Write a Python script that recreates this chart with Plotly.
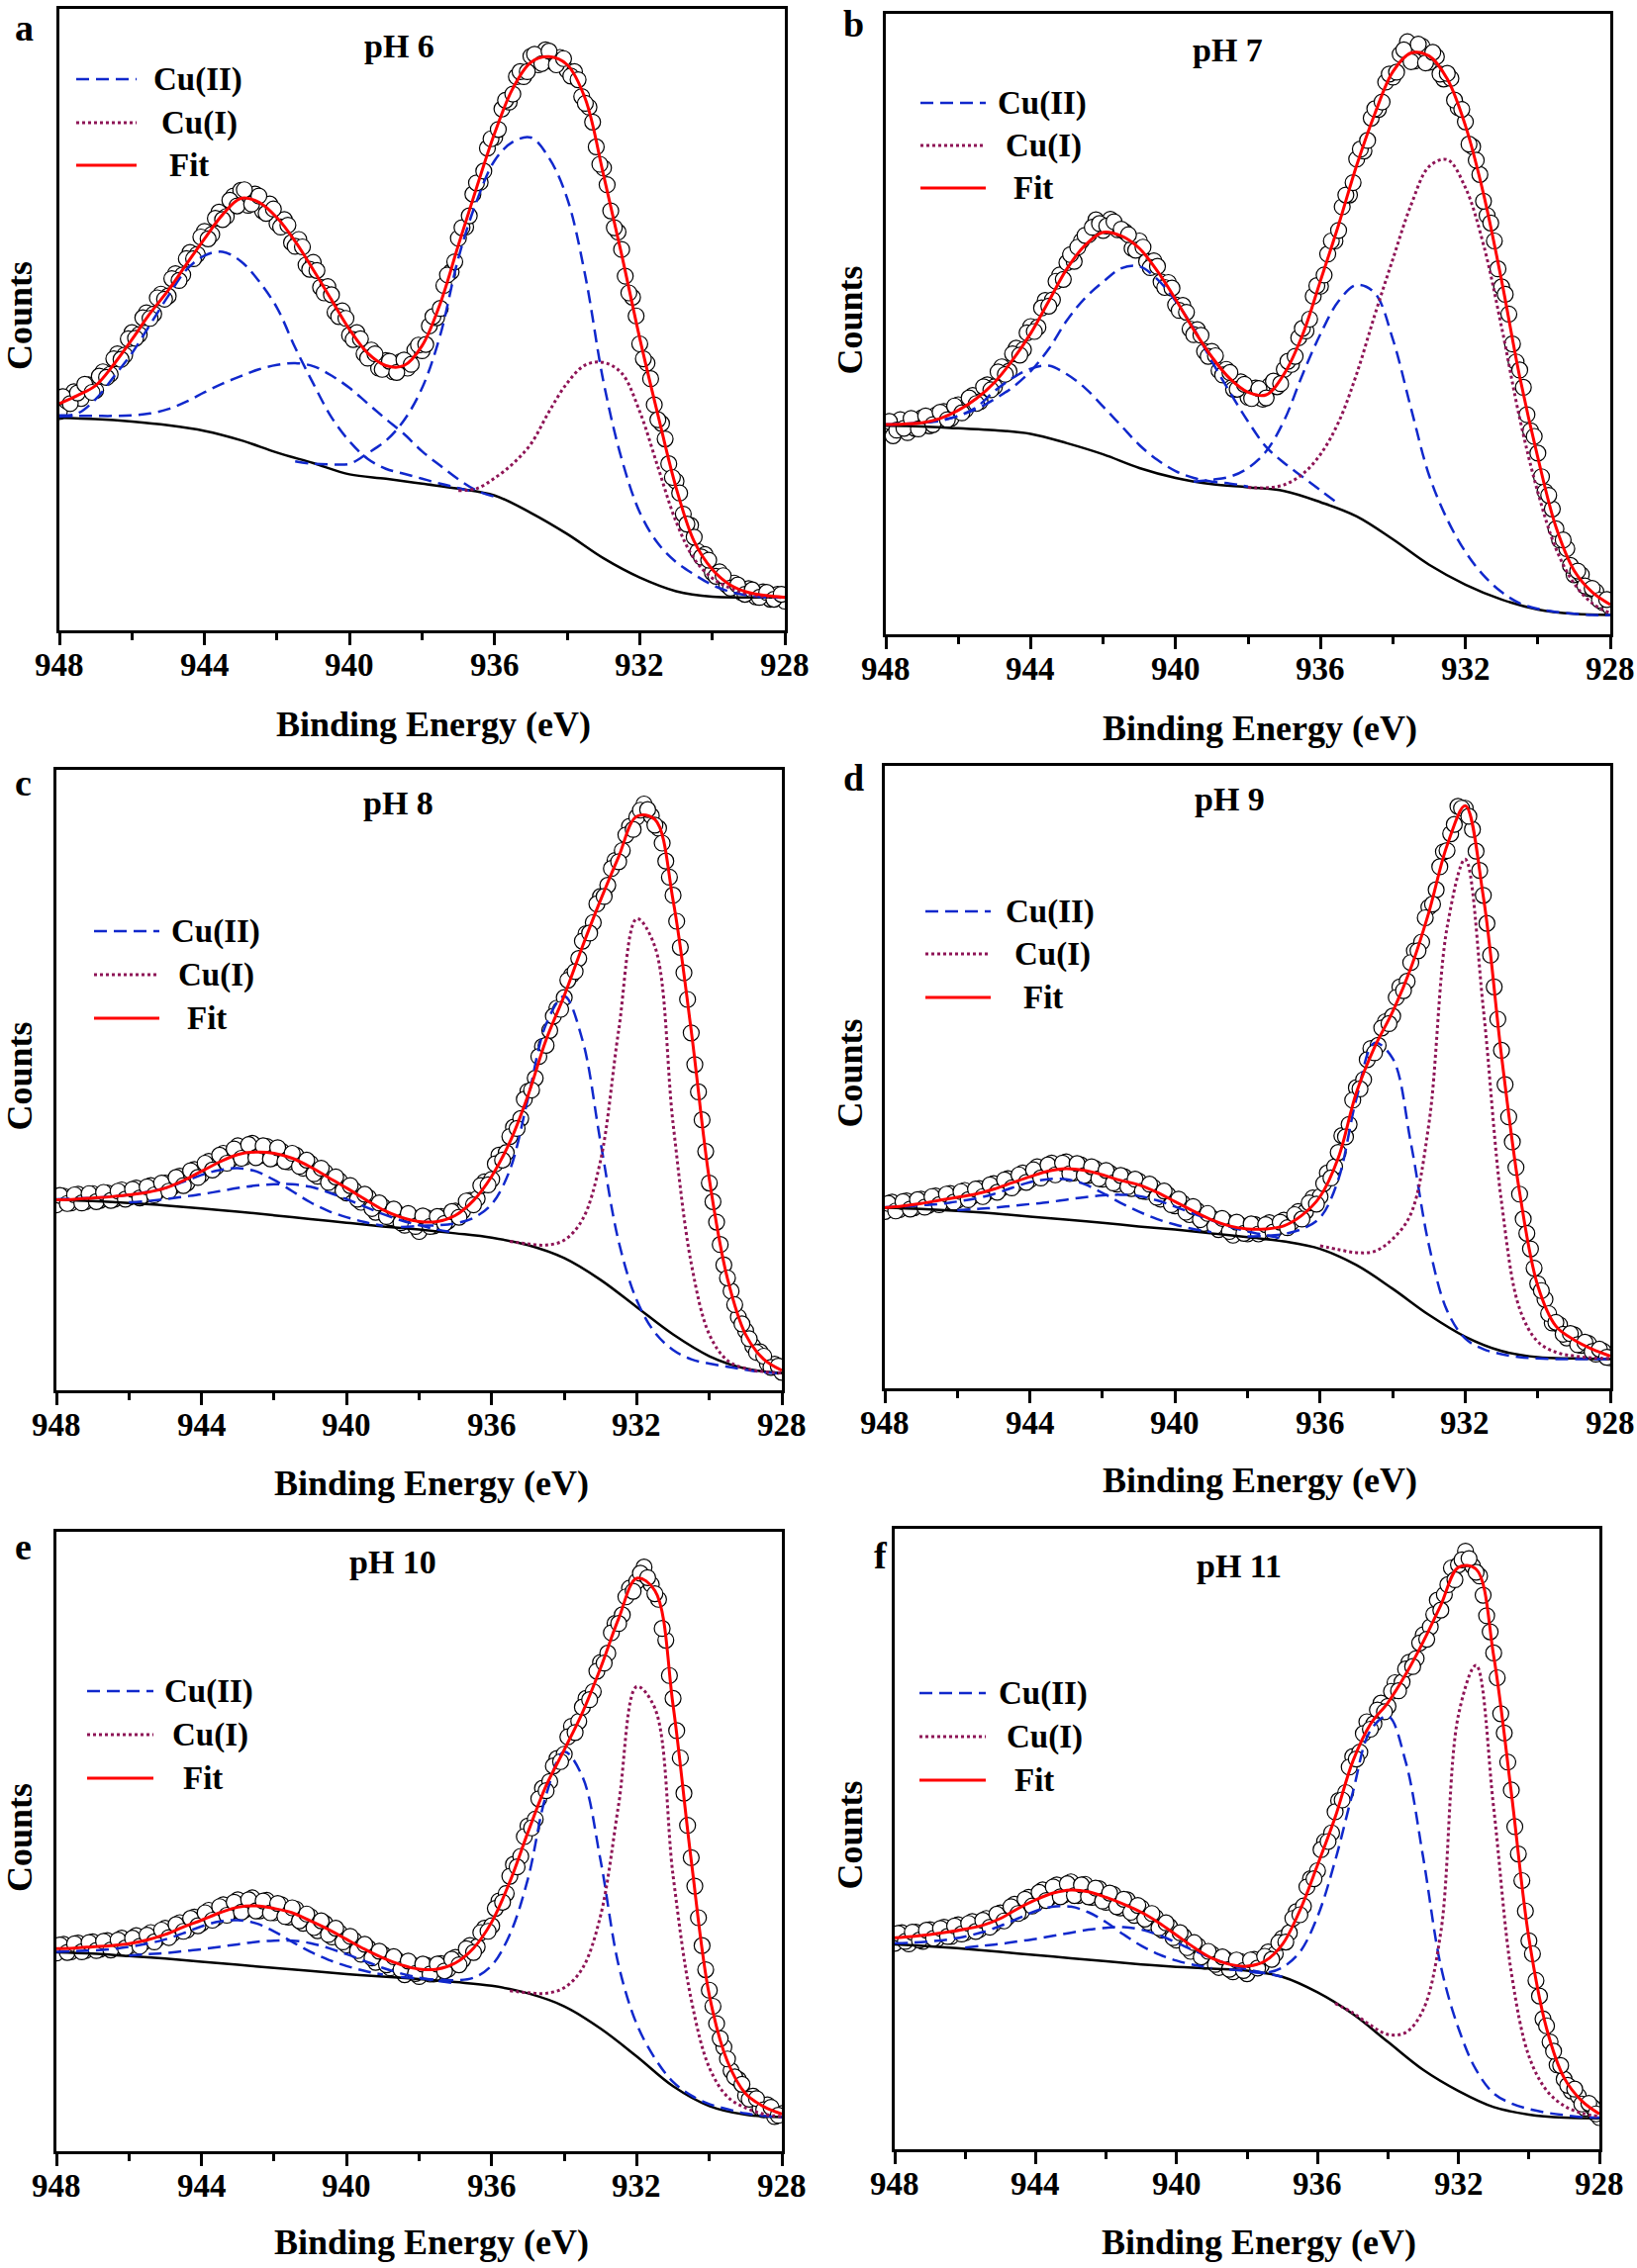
import plotly.graph_objects as go

W, H = 1654, 2292

# ---------------- energy grids (eV) ----------------
ENERGY_DATA = [948.0, 947.8, 947.6, 947.4, 947.2, 947.0, 946.8, 946.6, 946.4, 946.2,
               946.0, 945.8, 945.6, 945.4, 945.2, 945.0, 944.8, 944.6, 944.4, 944.2,
               944.0, 943.8, 943.6, 943.4, 943.2, 943.0, 942.8, 942.6, 942.4, 942.2,
               942.0, 941.8, 941.6, 941.4, 941.2, 941.0, 940.8, 940.6, 940.4, 940.2,
               940.0, 939.8, 939.6, 939.4, 939.2, 939.0, 938.8, 938.6, 938.4, 938.2,
               938.0, 937.8, 937.6, 937.4, 937.2, 937.0, 936.8, 936.6, 936.4, 936.2,
               936.0, 935.8, 935.6, 935.4, 935.2, 935.0, 934.8, 934.6, 934.4, 934.2,
               934.0, 933.8, 933.6, 933.4, 933.2, 933.0, 932.8, 932.6, 932.4, 932.2,
               932.0, 931.8, 931.6, 931.4, 931.2, 931.0, 930.8, 930.6, 930.4, 930.2,
               930.0, 929.8, 929.6, 929.4, 929.2, 929.0, 928.8, 928.6, 928.4, 928.2,
               928.0]
ENERGY_MID = [947.9, 947.7, 947.5, 947.3, 947.1, 946.9, 946.7, 946.5, 946.3, 946.1,
              945.9, 945.7, 945.5, 945.3, 945.1, 944.9, 944.7, 944.5, 944.3, 944.1,
              943.9, 943.7, 943.5, 943.3, 943.1, 942.9, 942.7, 942.5, 942.3, 942.1,
              941.9, 941.7, 941.5, 941.3, 941.1, 940.9, 940.7, 940.5, 940.3, 940.1,
              939.9, 939.7, 939.5, 939.3, 939.1, 938.9, 938.7, 938.5, 938.3, 938.1,
              937.9, 937.7, 937.5, 937.3, 937.1, 936.9, 936.7, 936.5, 936.3, 936.1,
              935.9, 935.7, 935.5, 935.3, 935.1, 934.9, 934.7, 934.5, 934.3, 934.1,
              933.9, 933.7, 933.5, 933.3, 933.1, 932.9, 932.7, 932.5, 932.3, 932.1,
              931.9, 931.7, 931.5, 931.3, 931.1, 930.9, 930.7, 930.5, 930.3, 930.1,
              929.9, 929.7, 929.5, 929.3, 929.1, 928.9, 928.7, 928.5, 928.3, 928.1]
ENERGY_FIT = [948.0, 947.5, 947.0, 946.5, 946.0, 945.5, 945.0, 944.5, 944.0, 943.5,
              943.0, 942.5, 942.0, 941.5, 941.0, 940.5, 940.0, 939.5, 939.0, 938.5,
              938.0, 937.5, 937.0, 936.5, 936.0, 935.5, 935.0, 934.5, 934.0, 933.5,
              933.0, 932.5, 932.0, 931.5, 931.0, 930.5, 930.0, 929.5, 929.0, 928.5,
              928.0]
ENERGY_BG = [948, 947, 946, 945, 944, 943, 942, 941, 940, 939, 938,
             937, 936, 935, 934, 933, 932, 931, 930, 929, 928]

TICK_VALUES = [948, 944, 940, 936, 932, 928]
TICK_LABELS = ["948", "944", "940", "936", "932", "928"]
MINOR_TICKS = [946, 942, 938, 934, 930]

PANEL_LETTERS = ["a", "b", "c", "d", "e", "f"]
PANEL_TITLES = ["pH 6", "pH 7", "pH 8", "pH 9", "pH 10", "pH 11"]
LEGEND_NAMES = ["Cu(II)", "Cu(I)", "Fit"]

# ---------------- panel a (pH 6) ----------------
DATA_A = [35.2, 36.9, 38.4, 37.3, 39.5, 38.6, 41.6, 41.2, 44.5, 44.3,
          47.9, 47.6, 51.1, 50.9, 54.1, 53.8, 57.4, 57.2, 60.8, 60.5,
          64.2, 63.7, 67.3, 66.6, 69.9, 70.8, 68.4, 70.2, 67.5, 68.6,
          65.5, 66.1, 62.4, 62.9, 58.8, 59.2, 55.2, 55.3, 51.2, 51.4,
          47.5, 47.9, 44.5, 45.1, 42.2, 43.4, 41.6, 43.2, 42.2, 45.1,
          45.0, 49.0, 50.3, 55.5, 57.7, 63.1, 64.9, 70.2, 72.1, 77.6,
          79.3, 83.9, 85.0, 89.1, 89.1, 92.4, 91.0, 93.4, 91.5, 92.2,
          90.1, 89.9, 85.9, 84.2, 77.8, 74.4, 67.5, 64.1, 57.0, 53.6,
          46.1, 43.0, 36.3, 33.3, 26.8, 24.0, 18.7, 16.9, 12.7, 12.2,
          9.3, 9.4, 7.3, 7.6, 6.1, 6.7, 5.4, 6.2, 5.0, 5.8,
          4.7]
DATA_A_MID = [37.6, 36.5, 38.2, 39.6, 38.3, 40.9, 40.7, 43.7, 43.6, 46.9,
              47.0, 50.3, 50.2, 53.5, 53.3, 56.6, 56.3, 59.8, 59.8, 63.3,
              63.0, 66.3, 66.1, 69.2, 68.3, 70.9, 68.6, 69.9, 67.1, 67.8,
              64.9, 65.2, 61.8, 61.7, 58.1, 57.9, 54.3, 54.0, 50.5, 50.2,
              46.8, 46.9, 43.8, 44.5, 42.0, 43.3, 41.5, 43.5, 42.8, 45.9,
              46.0, 50.5, 51.8, 57.2, 59.3, 64.8, 66.7, 72.0, 73.9, 79.1,
              80.6, 85.3, 86.3, 89.9, 89.9, 92.7, 91.2, 93.2, 91.0, 92.0,
              89.2, 88.6, 84.8, 81.8, 75.0, 71.7, 64.8, 61.3, 54.3, 50.6,
              43.7, 40.5, 33.9, 30.8, 24.6, 22.1, 17.1, 15.0, 11.8, 11.3,
              8.7, 8.8, 6.8, 7.3, 5.8, 6.5, 5.3, 6.1, 5.0, 5.8]
FIT_A = [36.5, 37.8, 39.4, 42.8, 46.8, 51.0, 54.7, 58.9, 63.0, 66.9,
         69.5, 68.9, 66.4, 62.6, 58.0, 53.2, 48.4, 44.6, 42.6, 42.6,
         45.8, 52.6, 62.0, 71.2, 80.0, 87.2, 91.4, 92.3, 91.0, 85.5,
         73.3, 60.5, 47.0, 34.7, 23.0, 14.3, 9.8, 7.3, 6.1, 5.6,
         5.3]
BG_A = [34.2, 34.0, 33.6, 33.0, 32.1, 30.6, 28.6, 26.9, 25.1, 24.4, 23.6,
        22.8, 21.7, 18.9, 15.5, 11.6, 8.5, 6.3, 5.4, 5.3, 5.3]
CU2_A_SAT1 = [34.6, 34.9, 37.2, 40.8, 44.6, 49.2, 53.8, 58.0, 60.3, 60.9,
              59.4, 56.2, 51.9, 45.5, 39.7, 34.3, 30.4, 27.6, 26.0, 25.2,
              24.4, 23.6, 22.9, 22.2]                      # from 948.0
CU2_A_SAT2 = [34.4, 34.5, 34.5, 34.5, 34.6, 34.9, 35.6, 36.8, 38.3, 39.7,
              40.9, 42.0, 42.7, 43.0, 42.5, 41.0, 39.0, 36.5, 34.0, 31.6,
              28.8, 26.5, 24.3, 22.5, 21.5]                # from 948.0
CU2_A_MAIN = [27.2, 26.8, 26.7, 26.8, 28.5, 30.5, 33.8, 39.0, 47.5, 59.9,
              69.0, 75.6, 78.6, 79.3, 76.0, 69.5, 57.0, 40.0, 27.6, 19.0,
              14.0, 11.0, 9.0, 7.3, 6.2, 5.6, 5.3, 5.3]     # from 941.5
CU1_A = [22.5, 22.8, 24.5, 26.8, 30.0, 35.2, 39.8, 42.7, 43.1, 41.4,
         35.2, 26.3, 17.5, 11.5, 8.4, 6.8, 5.8, 5.4, 5.3]   # from 937.0

# ---------------- panel b (pH 7) ----------------
DATA_B = [33.5, 32.0, 34.6, 32.5, 33.2, 34.9, 33.6, 35.4, 35.9, 34.8,
          37.0, 36.2, 38.5, 37.5, 40.2, 39.9, 43.1, 42.4, 46.1, 45.9,
          49.6, 49.5, 53.8, 53.9, 57.9, 59.9, 60.1, 63.4, 64.4, 66.8,
          65.1, 66.9, 65.2, 64.9, 62.2, 63.4, 60.1, 60.2, 56.8, 56.7,
          53.1, 53.0, 49.2, 49.1, 45.6, 45.6, 42.5, 42.7, 39.5, 40.7,
          38.2, 39.7, 37.9, 40.1, 39.9, 42.7, 43.5, 47.8, 48.9, 54.5,
          56.1, 61.3, 63.4, 68.9, 70.8, 76.6, 77.9, 83.2, 84.6, 89.0,
          89.8, 93.5, 95.5, 92.4, 94.8, 92.2, 93.1, 89.5, 89.6, 84.9,
          82.6, 78.6, 74.1, 67.5, 63.4, 56.0, 51.6, 43.9, 39.8, 32.8,
          29.2, 23.0, 20.2, 15.2, 13.8, 9.6, 9.6, 7.4, 6.9, 5.1,
          4.4]
DATA_B_MID = [34.3, 32.9, 33.2, 34.8, 33.1, 35.2, 33.8, 35.8, 34.6, 36.8,
              35.7, 38.1, 37.2, 39.9, 39.4, 42.3, 41.9, 45.2, 45.0, 48.6,
              48.8, 52.6, 52.9, 56.9, 57.2, 61.2, 62.4, 64.3, 65.6, 66.2,
              65.8, 66.5, 65.3, 64.4, 61.9, 62.4, 59.1, 59.3, 55.9, 55.8,
              52.2, 51.9, 48.3, 48.2, 44.8, 44.9, 41.8, 42.2, 39.5, 40.3,
              38.0, 39.6, 38.1, 40.8, 40.4, 44.0, 44.8, 49.3, 50.8, 56.2,
              57.9, 63.4, 65.1, 70.8, 72.8, 78.2, 79.6, 84.7, 85.8, 90.3,
              90.6, 94.2, 92.3, 95.1, 92.1, 93.8, 90.3, 90.4, 86.1, 84.6,
              79.0, 76.4, 69.8, 66.3, 58.9, 54.8, 46.8, 42.6, 35.4, 31.9,
              25.4, 22.4, 17.0, 15.2, 11.1, 10.2, 7.8, 7.4, 5.5, 5.6]
FIT_B = [33.8, 33.9, 34.1, 34.8, 36.1, 38.0, 40.6, 44.2, 48.5, 53.7,
         58.9, 62.7, 64.8, 64.2, 62.2, 58.5, 54.0, 49.1, 44.7, 41.2,
         39.0, 38.6, 42.0, 48.2, 57.0, 66.0, 75.6, 83.9, 90.7, 93.7,
         93.2, 89.5, 82.0, 71.0, 57.0, 41.5, 28.5, 17.3, 10.3, 6.8,
         4.8]
BG_B = [33.6, 33.5, 33.2, 32.9, 32.3, 30.8, 29.0, 26.8, 25.2, 24.2, 23.7,
        23.1, 21.3, 19.0, 15.3, 11.2, 8.0, 5.6, 4.0, 3.3, 3.1]
CU2_B_SAT1 = [33.8, 33.9, 34.1, 34.5, 35.2, 36.6, 39.2, 41.3, 42.8, 43.3,
              41.9, 39.7, 36.7, 33.6, 30.5, 28.1, 26.3, 25.2, 24.6, 24.3,
              23.8]                                        # from 948.0
CU2_B_SAT2 = [33.8, 33.9, 34.1, 34.4, 35.2, 36.3, 37.9, 39.8, 42.4, 46.0,
              50.6, 54.2, 56.8, 59.0, 59.3, 57.2, 53.7, 49.3, 44.0, 39.0,
              34.3, 30.2, 27.6, 25.4, 23.2, 21.0]           # from 948.0
CU2_B_MAIN = [24.6, 24.9, 25.4, 26.8, 29.5, 34.5, 41.8, 48.4, 53.7, 56.3,
              55.0, 47.5, 36.4, 25.6, 18.5, 13.3, 9.5, 6.8, 5.0, 4.1,
              3.6, 3.3, 3.1, 3.1]                          # from 939.5
CU1_B = [23.7, 23.6, 24.1, 25.8, 29.0, 34.2, 42.0, 51.5, 60.5, 69.2,
         75.4, 76.5, 72.0, 62.8, 49.5, 34.8, 22.9, 13.8, 8.2, 5.0,
         3.4]                                             # from 938.0

# ---------------- panel c (pH 8) ----------------
DATA_C = [29.9, 31.3, 30.2, 31.6, 30.4, 31.7, 30.6, 31.8, 30.8, 32.3,
          31.1, 32.6, 31.4, 33.0, 32.1, 33.4, 32.8, 34.5, 33.4, 35.6,
          34.8, 36.9, 36.0, 38.2, 37.2, 39.4, 37.6, 39.8, 37.8, 39.3,
          37.5, 38.6, 36.8, 37.9, 35.8, 36.6, 34.5, 35.2, 33.1, 33.8,
          31.8, 32.3, 30.3, 31.1, 28.7, 29.6, 27.8, 28.5, 26.6, 27.9,
          25.6, 27.8, 26.5, 28.0, 27.3, 28.9, 28.9, 30.6, 30.9, 33.6,
          34.0, 37.9, 38.3, 42.4, 43.8, 48.2, 50.3, 55.4, 58.0, 61.6,
          63.3, 66.9, 69.6, 73.6, 75.4, 79.6, 81.4, 85.4, 87.0, 90.9,
          92.4, 94.5, 92.6, 90.6, 85.3, 79.8, 71.4, 63.0, 52.5, 43.6,
          33.4, 27.1, 20.2, 16.0, 11.8, 9.6, 7.1, 6.2, 4.3, 4.2,
          2.9]
DATA_C_MID = [31.4, 30.1, 31.5, 30.2, 31.7, 30.4, 31.9, 30.6, 32.1, 30.8,
              32.4, 31.0, 32.8, 31.5, 33.4, 32.1, 34.3, 33.0, 35.4, 34.3,
              36.6, 35.5, 37.9, 36.6, 38.9, 37.4, 39.6, 37.5, 39.4, 37.3,
              39.1, 36.9, 38.2, 36.1, 37.1, 34.9, 35.8, 33.5, 34.4, 32.2,
              33.0, 30.8, 31.6, 29.3, 30.2, 28.0, 29.2, 27.0, 28.5, 26.4,
              28.1, 26.4, 28.0, 26.9, 28.8, 27.9, 30.5, 29.9, 33.0, 33.1,
              36.5, 37.1, 40.9, 42.2, 46.9, 48.4, 53.8, 55.6, 60.3, 61.4,
              66.1, 67.5, 72.4, 73.7, 78.4, 79.6, 84.1, 85.2, 89.5, 90.4,
              93.5, 93.6, 91.1, 88.2, 82.7, 75.6, 67.3, 57.6, 48.1, 38.5,
              30.4, 23.5, 18.1, 13.8, 10.7, 8.3, 6.1, 5.5, 3.7, 3.9]
FIT_C = [30.7, 30.8, 31.0, 31.2, 31.5, 31.9, 32.6, 33.8, 35.3, 36.8,
         38.0, 38.4, 38.2, 37.4, 36.0, 34.3, 32.6, 30.8, 29.1, 27.9,
         27.2, 27.2, 28.2, 30.6, 34.5, 40.0, 47.5, 56.5, 63.6, 71.5,
         79.0, 86.0, 92.5, 92.0, 79.0, 58.0, 34.0, 18.0, 9.0, 5.0,
         3.2]
BG_C = [30.7, 30.5, 30.2, 29.8, 29.3, 28.8, 28.2, 27.6, 27.0, 26.4, 25.9,
        25.3, 24.6, 23.4, 21.3, 17.8, 13.4, 9.0, 5.5, 3.5, 2.8]
CU2_C_SAT1 = [30.8, 30.9, 31.0, 31.2, 31.5, 32.0, 32.6, 33.6, 34.7, 35.5,
              35.8, 35.3, 33.9, 32.1, 30.3, 28.9, 27.9, 27.1, 26.5]   # from 948.0
CU2_C_SAT2 = [30.3, 30.5, 30.8, 31.2, 31.6, 32.1, 32.6, 33.0, 33.2, 33.2,
              32.8, 31.9, 30.8, 29.6, 28.4, 27.4, 26.6, 25.9, 25.4]   # from 946.0
CU2_C_MAIN = [26.3, 26.5, 26.6, 26.9, 27.8, 30.0, 35.5, 47.0, 59.0, 63.5,
              56.5, 40.0, 24.0, 14.5, 9.3, 6.5, 5.0, 4.3, 3.8, 3.3,
              2.9, 2.7]                                               # from 938.5
CU1_C = [24.0, 23.6, 23.4, 24.2, 27.5, 37.0, 58.0, 76.0, 71.5, 43.0,
         20.5, 9.0, 4.8, 3.5, 3.0, 2.8]                               # from 935.5

# ---------------- panel d (pH 9) ----------------
DATA_D = [28.4, 29.9, 28.7, 30.1, 29.0, 30.4, 29.4, 30.9, 29.8, 31.3,
          30.2, 31.8, 30.8, 32.1, 31.4, 32.9, 32.1, 33.7, 32.8, 34.6,
          33.5, 35.6, 34.4, 36.2, 34.9, 36.4, 34.6, 35.9, 34.2, 35.3,
          33.6, 34.6, 32.8, 34.0, 32.1, 33.3, 31.6, 32.3, 30.4, 31.1,
          29.3, 29.8, 27.9, 28.6, 26.5, 27.4, 25.5, 26.8, 24.6, 26.2,
          24.8, 26.3, 25.1, 26.6, 25.8, 27.0, 26.6, 28.4, 28.4, 30.6,
          30.8, 34.6, 35.6, 40.6, 42.4, 48.3, 49.6, 54.6, 55.1, 58.9,
          59.8, 64.5, 65.4, 70.3, 71.7, 77.3, 80.1, 86.2, 89.1, 93.5,
          93.2, 89.8, 83.2, 74.7, 64.5, 54.3, 43.6, 35.5, 27.2, 22.4,
          16.8, 14.3, 10.5, 10.2, 8.1, 8.6, 6.9, 7.2, 5.5, 6.0,
          4.9]
DATA_D_MID = [29.7, 28.5, 30.0, 28.8, 30.3, 29.1, 30.8, 29.5, 31.2, 29.9,
              31.6, 30.3, 32.0, 30.8, 32.7, 31.5, 33.5, 32.2, 34.3, 33.1,
              35.1, 33.8, 35.9, 34.3, 36.2, 34.5, 36.1, 34.2, 35.6, 33.7,
              35.0, 33.0, 34.2, 32.4, 33.6, 31.7, 32.8, 30.7, 31.7, 29.5,
              30.4, 28.3, 29.2, 27.1, 28.1, 26.0, 27.3, 25.2, 26.7, 24.9,
              26.4, 24.8, 26.3, 25.1, 26.7, 25.8, 27.9, 27.2, 29.8, 29.6,
              32.9, 33.8, 37.9, 40.4, 46.3, 48.1, 52.8, 53.9, 57.9, 58.6,
              62.8, 63.9, 68.4, 70.3, 75.6, 77.8, 83.8, 86.4, 90.6, 93.2,
              91.9, 86.3, 79.2, 69.6, 59.3, 48.8, 39.6, 31.2, 24.9, 19.3,
              15.7, 12.0, 10.6, 8.7, 8.8, 7.0, 7.4, 5.9, 6.3, 5.0]
FIT_D = [29.0, 29.3, 29.7, 30.2, 30.7, 31.2, 32.0, 33.0, 34.0, 34.9,
         35.3, 35.0, 34.3, 33.4, 32.7, 31.5, 30.0, 28.5, 27.1, 26.1,
         25.6, 25.6, 26.1, 27.8, 30.8, 37.0, 47.5, 54.8, 60.5, 67.5,
         76.5, 87.2, 93.6, 79.0, 53.5, 31.5, 16.5, 10.0, 7.8, 6.3,
         5.2]
BG_D = [29.0, 28.8, 28.5, 28.1, 27.6, 27.1, 26.6, 26.0, 25.5, 24.9, 24.3,
        23.6, 22.4, 19.8, 16.0, 11.8, 8.3, 6.0, 5.0, 4.8, 4.7]
CU2_D_SAT1 = [29.1, 29.2, 29.4, 29.6, 30.0, 30.5, 31.2, 32.2, 33.1, 33.6,
              33.6, 32.8, 31.4, 29.8, 28.4, 27.2, 26.3, 25.6, 25.1]   # from 948.0
CU2_D_SAT2 = [28.6, 28.8, 29.0, 29.3, 29.6, 29.9, 30.3, 30.7, 31.0, 31.1,
              30.9, 30.2, 29.2, 28.1, 27.0, 26.0, 25.2, 24.6, 24.0]   # from 946.0
CU2_D_MAIN = [24.4, 24.5, 24.8, 25.6, 27.4, 33.5, 46.5, 55.5, 53.0, 39.5,
              23.0, 12.5, 8.0, 6.3, 5.5, 5.0, 4.8, 4.7, 4.7, 4.7,
              4.7]                                                    # from 938.0
CU1_D = [22.9, 22.3, 21.8, 22.0, 24.0, 28.0, 42.5, 74.0, 85.0, 61.0,
         30.0, 12.8, 7.5, 5.8, 5.2, 4.9, 4.8]                         # from 936.0

# ---------------- panel e (pH 10) ----------------
DATA_E = [32.0, 33.4, 32.2, 33.6, 32.4, 33.8, 32.6, 34.0, 32.8, 34.4,
          33.1, 34.8, 33.7, 35.3, 34.4, 36.0, 35.1, 36.9, 35.7, 37.8,
          36.8, 38.9, 37.7, 39.8, 38.6, 40.6, 39.0, 40.9, 38.8, 40.5,
          38.5, 39.8, 37.8, 39.1, 36.8, 37.9, 35.6, 36.8, 34.6, 35.3,
          33.3, 34.1, 31.8, 32.8, 30.5, 31.8, 29.6, 30.8, 28.5, 30.1,
          28.2, 30.0, 28.6, 30.3, 29.4, 31.3, 30.9, 33.2, 33.0, 36.0,
          36.4, 40.4, 41.6, 46.3, 47.6, 52.5, 53.6, 58.6, 59.7, 63.4,
          64.1, 68.6, 69.4, 73.1, 74.2, 78.9, 80.4, 85.2, 86.6, 90.9,
          92.0, 94.3, 91.5, 89.1, 82.5, 73.1, 63.5, 52.6, 42.8, 33.2,
          26.0, 20.6, 16.8, 13.0, 11.6, 9.0, 8.9, 7.0, 7.5, 5.6,
          6.1]
DATA_E_MID = [33.3, 32.1, 33.5, 32.2, 33.7, 32.4, 33.9, 32.5, 34.1, 32.8,
              34.4, 33.1, 34.9, 33.8, 35.7, 34.5, 36.6, 35.5, 37.6, 36.4,
              38.5, 37.3, 39.5, 38.1, 40.2, 38.6, 40.6, 38.8, 40.4, 38.5,
              40.0, 37.9, 39.3, 37.2, 38.3, 36.1, 37.2, 35.0, 36.0, 33.8,
              34.7, 32.4, 33.4, 31.2, 32.3, 30.1, 31.4, 29.3, 30.7, 28.7,
              30.2, 28.6, 30.2, 29.1, 31.0, 30.1, 32.7, 32.1, 35.3, 35.5,
              39.2, 40.2, 44.4, 45.9, 50.8, 52.2, 56.9, 58.2, 62.2, 62.9,
              66.9, 67.6, 71.7, 72.9, 77.5, 78.8, 83.7, 85.2, 89.5, 90.4,
              93.3, 92.6, 90.0, 84.4, 76.8, 67.9, 57.8, 47.4, 37.7, 29.3,
              23.4, 18.2, 14.9, 12.0, 10.8, 8.4, 8.5, 6.7, 7.1, 5.8]
FIT_E = [32.7, 32.8, 33.0, 33.2, 33.5, 34.1, 35.0, 36.2, 37.3, 38.5,
         39.4, 39.6, 39.2, 38.5, 37.2, 35.8, 34.2, 32.6, 31.2, 30.1,
         29.4, 29.4, 30.4, 32.8, 37.0, 43.5, 51.5, 59.0, 64.8, 70.8,
         78.0, 86.0, 92.5, 90.5, 72.0, 47.0, 25.2, 14.5, 9.3, 7.2,
         6.0]
BG_E = [32.1, 31.9, 31.5, 31.1, 30.6, 30.1, 29.6, 29.1, 28.6, 28.2, 27.8,
        27.3, 26.7, 25.5, 23.4, 19.8, 15.3, 10.5, 7.3, 5.9, 5.5]
CU2_E_SAT1 = [32.2, 32.3, 32.4, 32.6, 33.0, 33.5, 34.2, 35.2, 36.3, 37.1,
              37.3, 36.8, 35.5, 33.8, 32.2, 30.9, 29.9, 29.1, 28.5]   # from 948.0
CU2_E_SAT2 = [31.6, 31.8, 32.0, 32.3, 32.6, 33.0, 33.4, 33.8, 34.0, 34.0,
              33.6, 32.8, 31.8, 30.7, 29.6, 28.7, 28.0, 27.5, 27.1]   # from 946.0
CU2_E_MAIN = [28.1, 27.9, 27.7, 27.6, 28.0, 30.0, 35.0, 44.0, 57.5, 64.5,
              60.5, 47.0, 30.0, 20.5, 15.0, 11.2, 9.0, 7.6, 6.8, 6.1,
              5.7, 5.5]                                               # from 938.5
CU1_E = [25.9, 25.6, 25.5, 26.4, 29.5, 38.0, 56.0, 75.0, 71.5, 44.5,
         24.5, 13.5, 8.8, 7.0, 6.0, 5.6]                              # from 935.5

# ---------------- panel f (pH 11) ----------------
DATA_F = [33.2, 34.9, 33.1, 35.0, 33.5, 35.4, 33.9, 35.8, 34.3, 36.2,
          34.9, 36.7, 35.4, 37.2, 36.3, 38.1, 37.4, 39.5, 38.3, 40.6,
          39.6, 41.8, 40.6, 42.6, 41.0, 43.1, 40.9, 42.7, 40.6, 42.0,
          39.8, 41.1, 38.9, 40.2, 37.7, 38.9, 36.6, 37.4, 35.3, 35.9,
          33.7, 34.3, 31.9, 32.8, 30.3, 31.5, 29.3, 30.6, 28.6, 30.3,
          28.3, 30.6, 29.6, 31.8, 31.5, 34.0, 34.9, 38.3, 39.2, 43.6,
          44.9, 49.6, 51.0, 56.2, 57.5, 63.3, 64.0, 68.9, 68.6, 71.9,
          71.4, 75.2, 75.3, 78.5, 79.1, 82.9, 84.2, 88.5, 89.4, 93.7,
          94.2, 96.4, 94.0, 92.4, 86.0, 80.0, 70.2, 62.4, 52.0, 43.3,
          33.6, 27.2, 21.0, 17.3, 13.6, 11.3, 9.4, 8.6, 6.6, 6.8,
          5.1]
DATA_F_MID = [34.8, 33.5, 35.0, 33.7, 35.3, 34.0, 35.6, 34.3, 36.0, 34.7,
              36.4, 35.1, 36.9, 35.8, 37.9, 36.8, 39.1, 38.0, 40.3, 39.2,
              41.4, 40.1, 42.3, 40.7, 42.8, 40.9, 42.6, 40.7, 42.1, 40.0,
              41.3, 39.1, 40.3, 38.2, 39.3, 37.1, 38.0, 35.7, 36.5, 34.1,
              34.9, 32.5, 33.3, 31.0, 31.9, 29.8, 31.0, 29.0, 30.5, 28.8,
              30.5, 29.2, 31.1, 30.6, 33.3, 33.4, 37.2, 37.8, 42.3, 43.6,
              48.3, 49.6, 54.4, 56.3, 61.6, 62.9, 67.0, 67.7, 70.8, 70.5,
              73.8, 73.9, 77.4, 77.8, 81.6, 82.2, 86.2, 86.9, 91.0, 91.8,
              95.0, 95.2, 93.0, 89.3, 83.4, 76.0, 67.1, 57.9, 47.6, 38.4,
              31.5, 24.7, 19.9, 15.8, 13.5, 10.3, 9.7, 7.3, 7.4, 5.7]
FIT_F = [34.1, 34.3, 34.6, 35.0, 35.5, 36.1, 37.2, 38.8, 40.2, 41.3,
         41.8, 41.5, 40.6, 39.5, 38.2, 36.5, 34.5, 32.5, 30.8, 29.8,
         29.5, 30.3, 33.0, 38.5, 45.8, 53.5, 62.5, 68.5, 72.0, 76.5,
         81.8, 87.7, 93.8, 93.5, 79.5, 57.5, 34.0, 19.5, 11.5, 7.8,
         5.7]
BG_F = [33.0, 32.7, 32.3, 31.8, 31.3, 30.8, 30.3, 29.8, 29.4, 29.1, 28.8,
        27.8, 25.3, 21.8, 17.3, 12.8, 9.4, 6.8, 5.6, 5.1, 5.0]
CU2_F_SAT1 = [33.2, 33.3, 33.5, 33.8, 34.3, 35.0, 36.0, 37.2, 38.4, 39.1,
              39.1, 38.2, 36.6, 34.6, 32.8, 31.4, 30.4, 29.7, 29.2]   # from 948.0
CU2_F_SAT2 = [32.5, 32.8, 33.1, 33.5, 33.9, 34.4, 34.9, 35.4, 35.7, 35.8,
              35.4, 34.5, 33.3, 32.0, 30.8, 29.8, 29.0, 28.4, 27.8]   # from 946.0
CU2_F_MAIN = [29.0, 28.7, 28.4, 29.3, 31.8, 37.5, 46.5, 57.5, 67.5, 69.8,
              62.5, 47.0, 29.5, 19.5, 12.8, 9.0, 7.4, 6.5, 5.9, 5.5,
              5.2, 5.1]                                               # from 938.5
CU1_F = [23.5, 22.0, 20.0, 18.5, 18.8, 22.5, 35.0, 70.0, 78.0, 55.0,
         28.5, 15.0, 9.5, 7.0, 5.8, 5.3]                              # from 935.5

PANELS = [
    dict(data=DATA_A, mid=DATA_A_MID, fit=FIT_A, bg=BG_A,
         cu2=[(948.0, CU2_A_SAT1), (948.0, CU2_A_SAT2), (941.5, CU2_A_MAIN)], cu1=(937.0, CU1_A)),
    dict(data=DATA_B, mid=DATA_B_MID, fit=FIT_B, bg=BG_B,
         cu2=[(948.0, CU2_B_SAT1), (948.0, CU2_B_SAT2), (939.5, CU2_B_MAIN)], cu1=(938.0, CU1_B)),
    dict(data=DATA_C, mid=DATA_C_MID, fit=FIT_C, bg=BG_C,
         cu2=[(948.0, CU2_C_SAT1), (946.0, CU2_C_SAT2), (938.5, CU2_C_MAIN)], cu1=(935.5, CU1_C)),
    dict(data=DATA_D, mid=DATA_D_MID, fit=FIT_D, bg=BG_D,
         cu2=[(948.0, CU2_D_SAT1), (946.0, CU2_D_SAT2), (938.0, CU2_D_MAIN)], cu1=(936.0, CU1_D)),
    dict(data=DATA_E, mid=DATA_E_MID, fit=FIT_E, bg=BG_E,
         cu2=[(948.0, CU2_E_SAT1), (946.0, CU2_E_SAT2), (938.5, CU2_E_MAIN)], cu1=(935.5, CU1_E)),
    dict(data=DATA_F, mid=DATA_F_MID, fit=FIT_F, bg=BG_F,
         cu2=[(948.0, CU2_F_SAT1), (946.0, CU2_F_SAT2), (938.5, CU2_F_MAIN)], cu1=(935.5, CU1_F)),
]

# ---------------- layout geometry (pixels) ----------------
BOXES = [(60, 793, 9, 637), (895, 1627, 14, 641),
         (57, 790, 778, 1405), (894, 1627, 774, 1403),
         (57, 790, 1548, 2174), (904, 1616, 1545, 2172)]
LETTER_POS = [(24, 28), (862, 24), (23, 791), (862, 786), (23, 1563), (890, 1572)]
TITLE_POS = [(403, 46), (1240, 51), (402, 811), (1242, 808), (397, 1578), (1252, 1582)]
COUNTS_X = [20, 858, 20, 858, 20, 858]
XTITLE_Y = [732, 736, 1499, 1496, 2266, 2266]
LEG_LINE_X = [(77, 138), (930, 996), (95, 161), (935, 1001), (88, 155), (929, 996)]
LEG_ROWS_Y = [(80, 124, 167), (104, 147, 190), (941, 985, 1029),
              (921, 964, 1008), (1709, 1753, 1797), (1711, 1755, 1799)]
LEG_TEXT_X = [(153, 161, 169), (1006, 1014, 1022), (171, 178, 187),
              (1014, 1023, 1032), (164, 172, 183), (1007, 1015, 1023)]

FONT = "Liberation Serif"
BLUE = "#1028CC"
PURPLE = "#8E1456"
RED = "#FF0000"
BLUE_DASH = "13px,7px"
PURPLE_DOT = "3px,3px"


def px(x):
    return x / W


def py(y):
    return 1 - y / H


fig = go.Figure()
shapes = []
annotations = []


def text(t, x, y, size, xref="paper", **kw):
    d = dict(text=t, x=x if xref != "paper" else px(x), y=py(y), xref=xref, yref="paper",
             showarrow=False,
             font=dict(family=FONT, size=size, color="black", weight="bold"),
             xanchor="center", yanchor="middle")
    d.update(kw)
    annotations.append(d)


for i, (p, box) in enumerate(zip(PANELS, BOXES), start=1):
    sfx = "" if i == 1 else str(i)
    xa, ya = "x" + sfx, "y" + sfx
    L, R, T, B = box

    fig.add_trace(go.Scatter(
        x=ENERGY_DATA + ENERGY_MID, y=p["data"] + p["mid"], mode="markers",
        xaxis=xa, yaxis=ya, showlegend=False,
        marker=dict(symbol="circle", size=16, color="white", line=dict(color="black", width=1.2))))
    fig.add_trace(go.Scatter(
        x=ENERGY_BG, y=p["bg"], mode="lines", xaxis=xa, yaxis=ya, showlegend=False,
        line=dict(color="black", width=2.5, shape="spline")))
    for start, vals in p["cu2"]:
        i0 = ENERGY_FIT.index(start)
        fig.add_trace(go.Scatter(
            x=ENERGY_FIT[i0:i0 + len(vals)], y=vals, mode="lines", xaxis=xa, yaxis=ya,
            showlegend=False, line=dict(color=BLUE, width=2.5, dash=BLUE_DASH, shape="spline")))
    start, vals = p["cu1"]
    i0 = ENERGY_FIT.index(start)
    fig.add_trace(go.Scatter(
        x=ENERGY_FIT[i0:i0 + len(vals)], y=vals, mode="lines", xaxis=xa, yaxis=ya,
        showlegend=False, line=dict(color=PURPLE, width=3, dash=PURPLE_DOT, shape="spline")))
    fig.add_trace(go.Scatter(
        x=ENERGY_FIT, y=p["fit"], mode="lines", xaxis=xa, yaxis=ya, showlegend=False,
        line=dict(color=RED, width=3, shape="spline")))

    fig.layout["xaxis" + sfx] = dict(
        domain=[px(L), px(R)], range=[948, 928], anchor=ya,
        tickmode="array", tickvals=TICK_VALUES, showticklabels=False,
        ticks="outside", ticklen=12, tickwidth=3, tickcolor="black",
        minor=dict(tickmode="array", tickvals=MINOR_TICKS, ticks="outside",
                   ticklen=7, tickwidth=3, tickcolor="black", showgrid=False),
        showline=True, linewidth=3, linecolor="black", mirror=True,
        showgrid=False, zeroline=False, automargin=False)
    fig.layout["yaxis" + sfx] = dict(
        domain=[py(B), py(T)], range=[0, 100], anchor=xa,
        showticklabels=False, ticks="", showline=True, linewidth=3,
        linecolor="black", mirror=True, showgrid=False, zeroline=False, automargin=False)

    k = i - 1
    for tv, tl in zip(TICK_VALUES, TICK_LABELS):
        text(tl, tv, B + 35, 33, xref=xa)
    text(PANEL_LETTERS[k], LETTER_POS[k][0], LETTER_POS[k][1], 38)
    text(PANEL_TITLES[k], TITLE_POS[k][0], TITLE_POS[k][1], 34)
    text("Counts", COUNTS_X[k], (T + B) / 2 - 4, 36, textangle=-90)
    text("Binding Energy (eV)", (L + R) / 2 + 12, XTITLE_Y[k], 36)

    x0, x1 = LEG_LINE_X[k]
    styles = [dict(color=BLUE, width=2.5, dash=BLUE_DASH),
              dict(color=PURPLE, width=3, dash=PURPLE_DOT),
              dict(color=RED, width=3)]
    for r in range(3):
        yy = LEG_ROWS_Y[k][r]
        shapes.append(dict(type="line", xref="paper", yref="paper",
                           x0=px(x0), x1=px(x1), y0=py(yy), y1=py(yy), line=styles[r]))
        text(LEGEND_NAMES[r], LEG_TEXT_X[k][r], yy, 33, xanchor="left")

fig.update_layout(
    width=W, height=H, margin=dict(l=0, r=0, t=0, b=0, autoexpand=False),
    paper_bgcolor="white", plot_bgcolor="white", showlegend=False,
    shapes=shapes, annotations=annotations)

fig.write_html("out.html",
               config={"displayModeBar": False},
               post_script="document.body.style.margin='0px';"
                           "document.body.style.overflow='hidden';")
